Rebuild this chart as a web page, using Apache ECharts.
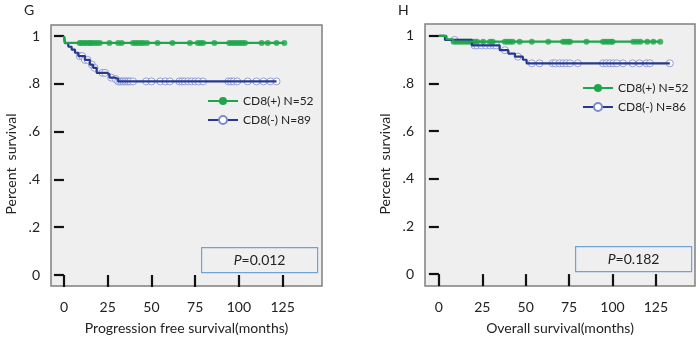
<!DOCTYPE html>
<html>
<head>
<meta charset="utf-8">
<script src="https://cdn.jsdelivr.net/npm/echarts@6/dist/echarts.min.js"></script>
<style>
  html, body { margin: 0; background: #fff; }
  #chart { width: 700px; height: 340px; }
</style>
</head>
<body>
<div id="chart"></div>
<script>
// panel G: progression free survival
const G_POS_NAME = 'CD8(+) N=52';
const G_POS_TIME = [0, 0.5];
const G_POS_SURV = [1, 0.971];
const G_POS_CENSOR = [9, 10, 11.5, 12.5, 14, 15, 16, 17.5, 19, 20.5, 26, 31, 33, 39.5, 41, 42.5, 44, 45.5, 47.5,
  53.5, 62, 72, 76.5, 78, 79.5, 86, 94.5, 96, 97.5, 99, 100.5, 102, 103.5, 113, 116.5, 121.5, 126];

const G_NEG_NAME = 'CD8(-) N=89';
const G_NEG_TIME = [0, 0.6, 2.5, 4.4, 6.3, 8.2, 12, 14.8, 16.7, 18.7, 24.4, 26, 29, 31];
const G_NEG_SURV = [1, 0.97, 0.955, 0.943, 0.93, 0.916, 0.9, 0.88, 0.867, 0.846, 0.84, 0.826, 0.82, 0.81];
const G_NEG_CENSOR = [9, 10.5, 12, 13.5, 16, 17.5, 22, 23.5, 27, 29.5, 31, 32, 33, 34, 35, 36, 37, 38, 39.5,
  47, 50, 55, 58, 60.5, 66, 67.5, 69, 71, 73, 75, 77, 79.5, 94, 95.5, 97, 99, 105, 110, 114, 118, 121.5];

// panel H: overall survival
const H_POS_NAME = 'CD8(+) N=52';
const H_POS_TIME = [0, 4.4, 8.2];
const H_POS_SURV = [1, 0.986, 0.976];
const H_POS_CENSOR = [8.5, 10, 11.5, 13, 14.5, 16, 17.5, 19, 20.5, 22, 25.5, 29.5, 31, 38, 39.5, 41, 42.5, 46.5,
  53.5, 63, 71.5, 73, 74.5, 75.5, 85, 94.5, 96, 97.5, 99, 100, 112, 114, 116, 120, 123.5, 127.5];

const H_NEG_NAME = 'CD8(-) N=86';
const H_NEG_TIME = [0, 3.5, 19, 35, 40, 43.8, 48.4, 50.5];
const H_NEG_SURV = [1, 0.983, 0.96, 0.94, 0.926, 0.913, 0.9, 0.885];
const H_NEG_CENSOR = [9, 20.5, 22, 24.5, 27, 29.5, 31.5, 33, 38, 45.5, 53.5, 58, 65.5, 67, 69.5, 71.5, 73.5, 75.5,
  80, 94.5, 96.5, 98.5, 100.5, 102.5, 106, 111.5, 115.5, 119.5, 121.5, 133];

const X_TICKS = [0, 25, 50, 75, 100, 125];
const Y_TICKS = [0, 0.2, 0.4, 0.6, 0.8, 1];
const Y_LABELS = { 0: '0', 0.2: '.2', 0.4: '.4', 0.6: '.6', 0.8: '.8', 1: '1' };

const GREEN = '#1fa64a';
const BLUE = '#27398f';
const BLUE_MARK = '#7d8acb';
const FONT = 'Lato';

function survAt(times, surv, t) {
  let v = surv[0];
  for (let i = 0; i < times.length; i++) if (times[i] <= t) v = surv[i];
  return v;
}

function stepData(times, surv, censor) {
  const d = times.map((t, i) => [t, surv[i]]);
  d.push([Math.max(...censor), surv[surv.length - 1]]);
  return d;
}

function censorData(times, surv, censor) {
  return censor.map(t => [t, survAt(times, surv, t)]);
}

function kmSeries(idx, name, times, surv, censor, pos) {
  const color = pos ? GREEN : BLUE;
  return [
    {
      name: name, type: 'line', step: 'end', xAxisIndex: idx, yAxisIndex: idx,
      data: stepData(times, surv, censor),
      showSymbol: false, symbol: 'circle', symbolSize: pos ? 7 : 9,
      lineStyle: { color: color, width: 2.2 },
      itemStyle: pos ? { color: GREEN } : { color: '#fff', borderColor: BLUE_MARK, borderWidth: 1 },
      silent: true, animation: false
    },
    {
      name: name + ' censored', type: 'scatter', xAxisIndex: idx, yAxisIndex: idx,
      data: censorData(times, surv, censor),
      symbol: 'circle', symbolSize: pos ? 6 : 7,
      itemStyle: pos ? { color: GREEN } : { color: '#fff', borderColor: BLUE_MARK, borderWidth: 1 },
      silent: true, animation: false
    }
  ];
}

function xAxis(idx, min, name) {
  return {
    type: 'value', gridIndex: idx, min: min, max: 147.5, offset: -3,
    axisLine: { show: false }, splitLine: { show: false },
    axisTick: { show: true, length: 12, customValues: X_TICKS, lineStyle: { color: '#111', width: 2.2 } },
    axisLabel: { customValues: X_TICKS, margin: 17, color: '#222', fontFamily: FONT, fontSize: 14 },
    name: name, nameLocation: 'middle', nameGap: 38,
    nameTextStyle: { color: '#222', fontFamily: FONT, fontSize: 14 }
  };
}

function yAxis(idx, min, max) {
  return {
    type: 'value', gridIndex: idx, min: min, max: max, offset: -3,
    axisLine: { show: false }, splitLine: { show: false },
    axisTick: { show: true, length: 10, customValues: Y_TICKS, lineStyle: { color: '#111', width: 2.2 } },
    axisLabel: {
      customValues: Y_TICKS, margin: 14, color: '#222', fontFamily: FONT, fontSize: 14,
      formatter: v => Y_LABELS[Math.round(v * 10) / 10]
    }
  };
}

function legend(left, top, names) {
  return {
    left: left, top: top, orient: 'vertical', data: names,
    itemWidth: 30, itemHeight: 10, itemGap: 7, padding: 0, selectedMode: false,
    textStyle: { color: '#222', fontFamily: FONT, fontSize: 12 }
  };
}

function yTitle(x, y) {
  return {
    type: 'text', x: x, y: y, rotation: Math.PI / 2,
    style: { text: 'Percent  survival', align: 'center', verticalAlign: 'middle', fill: '#222', font: '14px ' + FONT }
  };
}

function pBox(x, y, value) {
  return {
    type: 'group', left: x, top: y,
    children: [
      { type: 'rect', shape: { x: 0, y: 0, width: 116, height: 25 },
        style: { fill: 'rgba(0,0,0,0)', stroke: '#6fa3d6', lineWidth: 1.2 } },
      { type: 'text', x: 58, y: 13,
        style: { text: '{i|P}=' + value, align: 'center', verticalAlign: 'middle',
          fill: '#222', font: '14px ' + FONT, rich: { i: { fontStyle: 'italic', fontFamily: FONT, fontSize: 14 } } } }
    ]
  };
}

const chart = echarts.init(document.getElementById('chart'), null, { renderer: 'canvas' });
chart.setOption({
  backgroundColor: '#fff',
  animation: false,
  grid: [
    { left: 51, top: 25, width: 271, height: 263, show: true, backgroundColor: '#efefef', borderColor: '#808080', borderWidth: 1.5 },
    { left: 425, top: 24, width: 270, height: 264, show: true, backgroundColor: '#efefef', borderColor: '#808080', borderWidth: 1.5 }
  ],
  xAxis: [
    xAxis(0, -7.4, 'Progression free survival(months)'),
    xAxis(1, -8, 'Overall survival(months)')
  ],
  yAxis: [
    yAxis(0, -0.046, 1.046),
    yAxis(1, -0.05, 1.05)
  ],
  legend: [
    legend(207, 95, [G_POS_NAME, G_NEG_NAME]),
    legend(582, 82, [H_POS_NAME + ' ', H_NEG_NAME])
  ],
  graphic: [
    { type: 'text', left: 24, top: 3, style: { text: 'G', fill: '#222', font: '14px ' + FONT } },
    { type: 'text', left: 398, top: 3, style: { text: 'H', fill: '#222', font: '14px ' + FONT } },
    yTitle(11, 164),
    yTitle(385, 164),
    pBox(201, 247, '0.012'),
    pBox(575, 246, '0.182')
  ],
  series: [].concat(
    kmSeries(0, G_NEG_NAME, G_NEG_TIME, G_NEG_SURV, G_NEG_CENSOR, false),
    kmSeries(0, G_POS_NAME, G_POS_TIME, G_POS_SURV, G_POS_CENSOR, true),
    kmSeries(1, H_NEG_NAME, H_NEG_TIME, H_NEG_SURV, H_NEG_CENSOR, false),
    kmSeries(1, H_POS_NAME + ' ', H_POS_TIME, H_POS_SURV, H_POS_CENSOR, true)
  )
});
</script>
</body>
</html>
